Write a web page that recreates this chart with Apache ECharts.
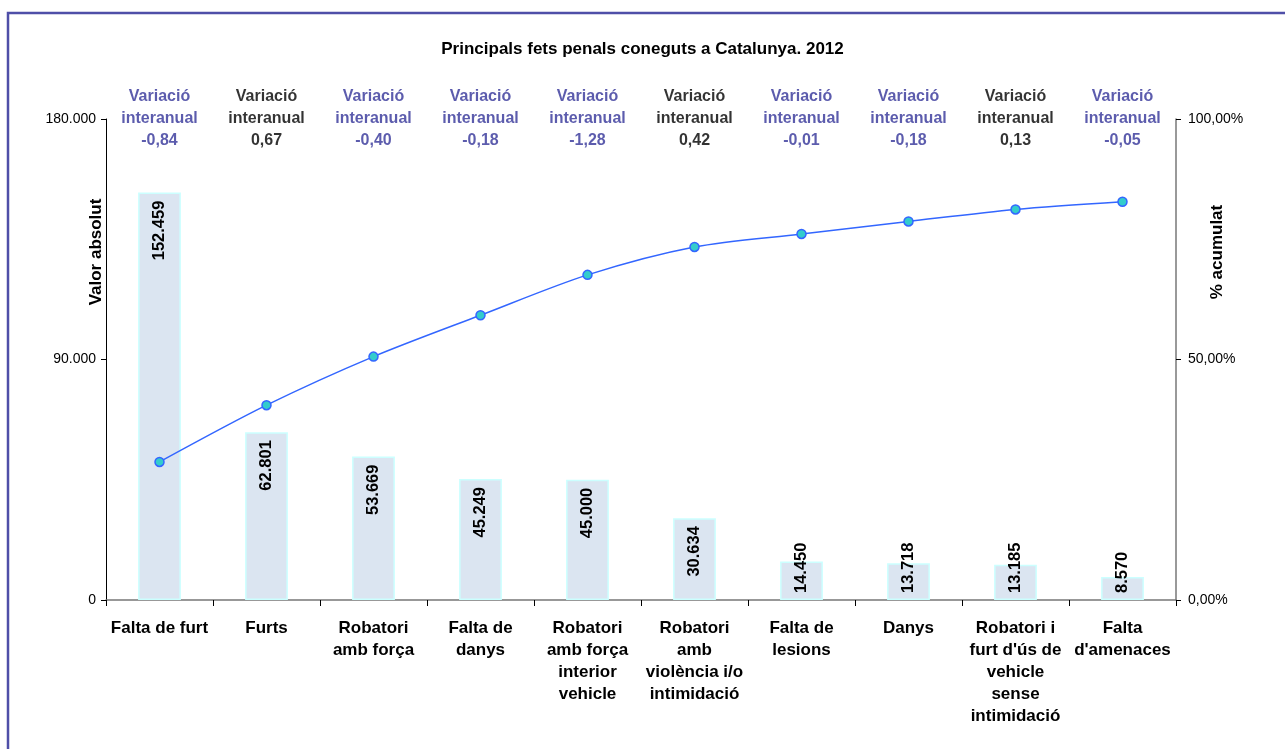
<!DOCTYPE html>
<html>
<head>
<meta charset="utf-8">
<script src="https://cdn.jsdelivr.net/npm/echarts@6/dist/echarts.min.js"></script>
<style>html,body{margin:0;padding:0;background:#fff;}#c{width:1285px;height:749px;}</style>
</head>
<body>
<div id="c"></div>
<script>
var categories = ["Falta de furt", "Furts", "Robatori\namb força", "Falta de\ndanys", "Robatori\namb força\ninterior\nvehicle", "Robatori\namb\nviolència i/o\nintimidació", "Falta de\nlesions", "Danys", "Robatori i\nfurt d'ús de\nvehicle\nsense\nintimidació", "Falta\nd'amenaces"];
var absValues = [152459, 62801, 53669, 45249, 45000, 30634, 14450, 13718, 13185, 8570];
var cumPercent = [28.7, 40.5, 50.6, 59.2, 67.6, 73.4, 76.1, 78.7, 81.2, 82.8];
var variation = [-0.84, 0.67, -0.40, -0.18, -1.28, 0.42, -0.01, -0.18, 0.13, -0.05];
var leftTicks = [0, 90000, 180000];
var rightTicks = [0, 50, 100];

var FONT = "Liberation Sans, Arial, sans-serif";
function thousands(v) { return String(Math.round(v)).replace(/\B(?=(\d{3})+(?!\d))/g, "."); }
function comma(v, d) { return v.toFixed(d).replace(".", ","); }

var leftMax = leftTicks[leftTicks.length - 1];
var rightMax = rightTicks[rightTicks.length - 1];

var barData = absValues.map(function (v) {
  var small = v < 25000;
  return {
    value: v,
    label: small ? { position: "insideBottom", align: "left", distance: 7 } : { position: "insideTop", align: "right", distance: 8 }
  };
});

var varData = variation.map(function (v) {
  return {
    value: leftMax,
    label: { color: v < 0 ? "#333399" : "#000000", formatter: "Variació\ninteranual\n" + comma(v, 2) }
  };
});

var chart = echarts.init(document.getElementById("c"), null, { renderer: "canvas" });
chart.setOption({
  backgroundColor: "#ffffff",
  animation: false,
  title: {
    text: "Principals fets penals coneguts a Catalunya. 2012",
    left: "center", top: 36,
    textStyle: { fontFamily: FONT, fontSize: 17, fontWeight: "bold", color: "#000" }
  },
  graphic: [
    { type: "rect", shape: { x: 8, y: 13, width: 1400, height: 900 }, style: { fill: "none", stroke: "#4f4fa8", lineWidth: 2.5 }, silent: true },
    { type: "text", x: 96, y: 252, rotation: Math.PI / 2, style: { text: "Valor absolut", font: "bold 17px " + FONT, fill: "#000", align: "center", verticalAlign: "middle" } },
    { type: "text", x: 1217, y: 252, rotation: Math.PI / 2, style: { text: "% acumulat", font: "bold 17px " + FONT, fill: "#000", align: "center", verticalAlign: "middle" } }
  ],
  grid: { left: 106, right: 109, top: 119, bottom: 149, containLabel: false },
  xAxis: {
    type: "category",
    data: categories,
    boundaryGap: true,
    axisLine: { lineStyle: { color: "#777777", width: 1.5 } },
    axisTick: { show: true, length: 6, inside: false, lineStyle: { color: "#000" } },
    axisLabel: { interval: 0, margin: 17, fontFamily: FONT, fontSize: 17, fontWeight: "bold", color: "#000", lineHeight: 22, align: "center" }
  },
  yAxis: [
    {
      type: "value", min: 0, max: leftMax, interval: leftTicks[1] - leftTicks[0],
      splitLine: { show: false },
      axisLine: { show: true, lineStyle: { color: "#000", width: 1 } },
      axisTick: { show: true, length: 5, lineStyle: { color: "#000" } },
      axisLabel: { fontFamily: FONT, fontSize: 14, color: "#000", margin: 10, formatter: function (v) { return thousands(v); } }
    },
    {
      type: "value", min: 0, max: rightMax, interval: rightTicks[1] - rightTicks[0],
      splitLine: { show: false },
      axisLine: { show: true, lineStyle: { color: "#777777", width: 1.5 } },
      axisTick: { show: true, length: 5, lineStyle: { color: "#000" } },
      axisLabel: { fontFamily: FONT, fontSize: 14, color: "#000", margin: 12, formatter: function (v) { return comma(v, 2) + "%"; } }
    }
  ],
  series: [
    {
      type: "bar", yAxisIndex: 0, data: barData, barWidth: "40%",
      itemStyle: { color: "#dbe5f1", borderColor: "#ccffff", borderWidth: 1.5 },
      label: { show: true, rotate: 90, verticalAlign: "middle", fontFamily: FONT, fontSize: 16.5, fontWeight: "bold", color: "#000", formatter: function (p) { return thousands(p.value); } }
    },
    {
      type: "line", yAxisIndex: 1, data: cumPercent, smooth: 0.3,
      symbol: "circle", symbolSize: 9,
      lineStyle: { color: "#3366ff", width: 1.5 },
      itemStyle: { color: "#33cccc", borderColor: "#3366ff", borderWidth: 1.5 },
      z: 5
    },
    {
      type: "scatter", yAxisIndex: 0, data: varData, symbolSize: 0, silent: true,
      label: { show: true, position: "inside", fontFamily: FONT, fontSize: 16, fontWeight: "bold", lineHeight: 22, align: "center", verticalAlign: "middle" },
      z: 10
    }
  ]
});
</script>
</body>
</html>
